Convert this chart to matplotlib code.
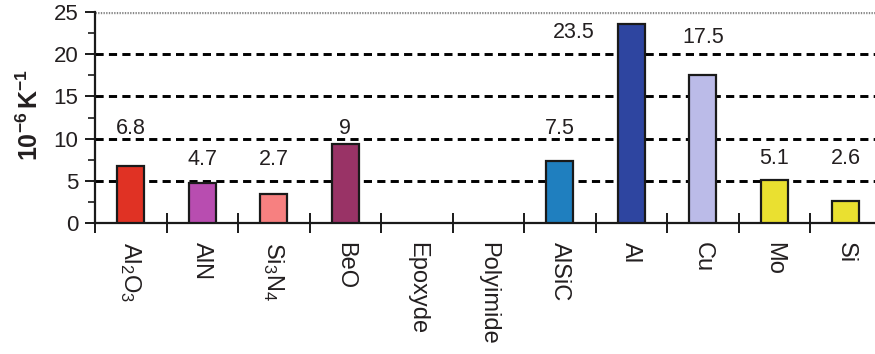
import matplotlib
matplotlib.use("Agg")
import matplotlib.pyplot as plt
from matplotlib.ticker import MultipleLocator, FixedLocator

plt.rcParams['font.family'] = ['Liberation Sans', 'DejaVu Sans']
plt.rcParams['mathtext.fontset'] = 'custom'
plt.rcParams['mathtext.rm'] = 'Liberation Sans'
plt.rcParams['mathtext.it'] = 'Liberation Sans'
plt.rcParams['mathtext.bf'] = 'Liberation Sans:bold'

# ---- data ----
categories = ["Al$_2$O$_3$", "AlN", "Si$_3$N$_4$", "BeO", "Epoxyde", "Polyimide",
              "AlSiC", "Al", "Cu", "Mo", "Si"]
bar_values = [6.75, 4.7, 3.45, 9.35, 0, 0, 7.4, 23.6, 17.5, 5.1, 2.6]
value_labels = ["6.8", "4.7", "2.7", "9", "", "", "7.5", "23.5", "17.5", "5.1", "2.6"]
bar_colors = ["#E03224", "#B84DB0", "#F78080", "#993366", "#FFFFFF", "#FFFFFF",
              "#1F7FBF", "#2E45A0", "#BBBBE8", "#EAE030", "#EAE030"]
y_ticks = [0, 5, 10, 15, 20, 25]

# label placement (positions, not data)
label_y = [11.2, 7.5, 7.5, 11.2, 0, 0, 11.2, 22.6, 22.0, 7.7, 7.7]
label_dx = [0, 0, 0, 0, 0, 0, 0, -0.81, 0, 0, 0]

fig = plt.figure(figsize=(8.75, 3.54), dpi=100)
ax = fig.add_axes([95/875, (354-223)/354, 780/875, (223-12)/354])

n = len(categories)
centers = [i + 0.5 for i in range(n)]

for yv in [5, 10, 15, 20]:
    ax.axhline(yv, color="black", lw=2.1, linestyle=(0, (2.8, 1.8)), zorder=1)
ax.axhline(25, color="#888888", lw=2.4, linestyle=(0, (0.4, 0.4)), zorder=1)

for i in range(n):
    if bar_values[i] > 0:
        ax.bar(centers[i], bar_values[i], width=0.38, color=bar_colors[i],
               edgecolor="#1a1a1a", linewidth=1.6, zorder=3)
    if value_labels[i]:
        ax.text(centers[i] + label_dx[i], label_y[i], value_labels[i],
                ha="center", va="center", fontsize=15.5, color="#231f20", zorder=4)

ax.set_xlim(0, 780/71.5)
ax.set_ylim(0, 25)

for s in ["top", "right"]:
    ax.spines[s].set_visible(False)
ax.spines["left"].set_linewidth(1.6)
ax.spines["bottom"].set_linewidth(1.6)
ax.spines["left"].set_color("#1a1a1a")
ax.spines["bottom"].set_color("#1a1a1a")

ax.set_yticks(y_ticks)
ax.yaxis.set_minor_locator(MultipleLocator(2.5))
ax.tick_params(axis="y", which="major", length=7, width=1.4, pad=5,
               labelsize=16, labelcolor="#231f20", color="#1a1a1a")
ax.tick_params(axis="y", which="minor", length=5, width=1.2, color="#1a1a1a")

ax.xaxis.set_major_locator(FixedLocator(list(range(n))))
ax.xaxis.set_minor_locator(FixedLocator(centers))
ax.set_xticklabels([""] * n)
ax.set_xticklabels(categories, minor=True)
ax.tick_params(axis="x", which="major", direction="inout", length=14, width=1.4,
               color="#1a1a1a")
ax.tick_params(axis="x", which="minor", length=0, pad=14, labelsize=17,
               labelcolor="#231f20")
for lbl in ax.get_xticklabels(minor=True):
    lbl.set_rotation(270)
    lbl.set_va("top")
    lbl.set_ha("center")

fig.text(30/875, 1 - 115/354, r"$\mathbf{10^{-6}\,K^{-1}}$", rotation=90,
         ha="center", va="center", fontsize=18, color="#231f20")

fig.savefig("out.png", dpi=100)
